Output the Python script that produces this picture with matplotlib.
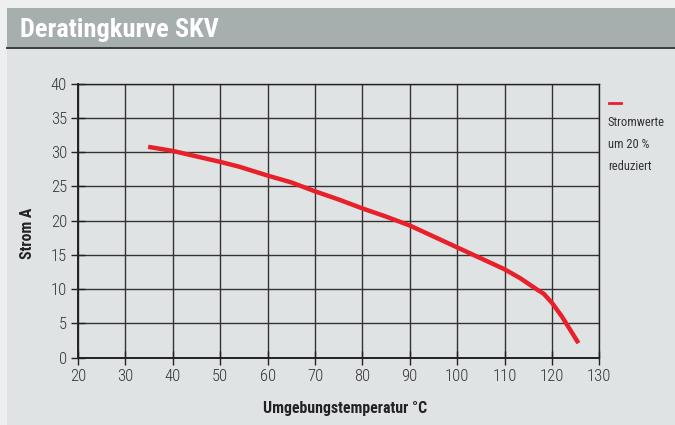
import matplotlib.pyplot as plt
from matplotlib.patches import Rectangle
from matplotlib.lines import Line2D

# Derating curve values
temp = [34.8, 40, 50, 54, 60, 65, 70, 75, 80, 85, 90, 95, 100, 105, 110, 113.3, 116.5, 118.3, 120, 122.1, 123.9, 125.6]
strom = [30.8, 30.2, 28.6, 27.9, 26.6, 25.6, 24.3, 23.1, 21.8, 20.6, 19.3, 17.7, 16.1, 14.5, 12.9, 11.6, 10.1, 9.3, 8.0, 6.0, 4.0, 2.1]

xticks = [20, 30, 40, 50, 60, 70, 80, 90, 100, 110, 120, 130]
yticks = [0, 5, 10, 15, 20, 25, 30, 35, 40]

title = 'Deratingkurve SKV'
xlabel = 'Umgebungstemperatur °C'
ylabel = 'Strom A'
legend_lines = ['Stromwerte', 'um 20 %', 'reduziert']

plt.rcParams['font.family'] = ['Liberation Sans Narrow', 'Roboto Condensed',
                               'DejaVu Sans Condensed', 'Liberation Sans', 'DejaVu Sans']

W, H = 675, 425
fig = plt.figure(figsize=(W / 100, H / 100), dpi=100)
fig.patch.set_facecolor('#eef0ef')

# panel body and header band (behind the axes)
fig.add_artist(Rectangle((7 / W, 0), 1, 1 - 48 / H, transform=fig.transFigure,
                         facecolor='#e0e3e4', edgecolor='none', zorder=-10))
fig.add_artist(Rectangle((7 / W, 1 - 47 / H), 1, 39 / H, transform=fig.transFigure,
                         facecolor='#a7aeae', edgecolor='none', zorder=-10))
fig.add_artist(Line2D([7 / W, 1], [1 - 47.5 / H, 1 - 47.5 / H], transform=fig.transFigure,
                      color='#2e2e2e', lw=1.3, zorder=-9))
fig.text(20 / W, 1 - 30 / H, title, color='white', fontsize=19, fontweight='bold',
         va='center', ha='left')

ax = fig.add_axes([78 / W, 1 - 357.5 / H, (599.3 - 78) / W, (357.5 - 83.9) / H])
ax.set_facecolor('#e0e3e4')
ax.plot(temp, strom, color='#e8202a', lw=3.2, solid_capstyle='butt',
        solid_joinstyle='round', zorder=3)

ax.set_xlim(20, 130)
ax.set_ylim(0, 40)
ax.set_xticks(xticks)
ax.set_yticks(yticks)
ax.grid(True, color='#333333', lw=1.0)
ax.tick_params(direction='inout', length=10, width=1, color='#222222', labelcolor='#333333',
               labelsize=12, pad=3)
for lab in ax.get_xticklabels() + ax.get_yticklabels():
    lab.set_fontweight('light')
for s in ax.spines.values():
    s.set_color('#222222')
    s.set_linewidth(1.0)
ax.spines['left'].set_linewidth(1.4)
ax.spines['bottom'].set_linewidth(1.4)

fig.text(345 / W, 1 - 408 / H, xlabel, fontsize=11.4, fontweight='bold', color='#222222',
         ha='center', va='center')
fig.text(28 / W, 1 - 233 / H, ylabel, fontsize=11.4, fontweight='bold', color='#222222',
         ha='center', va='center', rotation=90)

# legend note on the right
fig.add_artist(Line2D([609 / W, 621 / W], [1 - 103 / H, 1 - 103 / H], transform=fig.transFigure,
                      color='#e8202a', lw=2))
for i, t in enumerate(legend_lines):
    fig.text(608 / W, 1 - (122 + 22 * i) / H, t, fontsize=9, color='#333333',
             va='center', ha='left')

fig.savefig('out.png', dpi=100, facecolor=fig.get_facecolor())
